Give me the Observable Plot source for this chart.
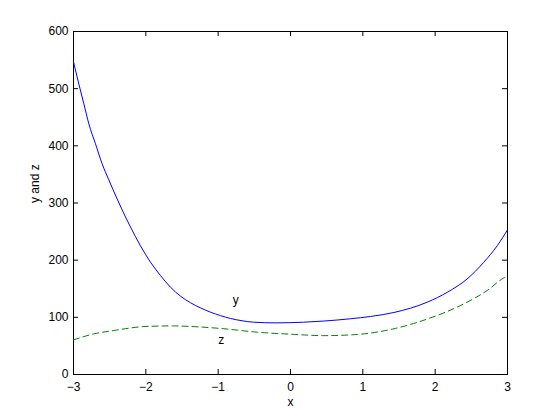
<!DOCTYPE html>
<html><head><meta charset="utf-8">
<script src="https://cdn.jsdelivr.net/npm/d3@7"></script>
<script src="https://cdn.jsdelivr.net/npm/@observablehq/plot@0.6"></script>
<style>html,body{margin:0;padding:0;background:#fff;} svg{display:block}</style>
</head><body><div id="chart"></div>
<script>
const xTicks = [-3, -2, -1, 0, 1, 2, 3];
const yTicks = [0, 100, 200, 300, 400, 500, 600];

const yX = [-3, -2.926, -2.857, -2.788, -2.696, -2.604, -2.512, -2.396, -2.281, -2.212, -2.074, -1.935, -1.797, -1.659, -1.52, -1.382, -1.244, -1.106, -0.968, -0.83, -0.67, -0.51, -0.2, 0.18, 0.46, 0.83, 1.106, 1.43, 1.89, 2.17, 2.44, 2.67, 2.86, 3];
const yV = [547, 508, 473.5, 438.5, 403.5, 368.5, 340.5, 307, 275.5, 258, 225, 196.4, 173, 152.7, 137, 125.5, 116.5, 109, 103, 98, 94, 91.5, 90.3, 91.5, 93.5, 97.5, 101.5, 108.5, 126.5, 144, 167, 196, 225.6, 253];

const zX = [-3, -2.72, -2.44, -2, -1.62, -1.38, -0.92, -0.46, 0, 0.46, 0.92, 1.43, 1.89, 2.35, 2.72, 2.95, 3];
const zV = [60.5, 71, 77, 84, 85, 84, 80, 74, 70.5, 68, 70, 80, 97, 120.7, 147, 169, 172];

const labelX = [-0.8, -1];
const labelV = [130, 60];
const labelText = ["y", "z"];

const yData = yX.map((x, i) => ({x, v: yV[i]}));
const zData = zX.map((x, i) => ({x, v: zV[i]}));
const labels = labelX.map((x, i) => ({x, v: labelV[i], t: labelText[i]}));

const W = 560, H = 420;
const mL = 73, mR = 53, mT = 31, mB = 46;
const fw = W - mL - mR, fh = H - mT - mB;
const tick = 5;

const chart = Plot.plot({
  width: W, height: H,
  marginLeft: mL, marginRight: mR, marginTop: mT, marginBottom: mB,
  style: {fontFamily: "'Liberation Sans', Arial, sans-serif", fontSize: "12px", color: "black", background: "white"},
  x: {domain: [-3, 3]},
  y: {domain: [0, 600]},
  marks: [
    Plot.frame({stroke: "black", strokeWidth: 1}),
    Plot.tickX(xTicks, {x: d => d, insetTop: fh - tick, stroke: "black"}),
    Plot.tickX(xTicks, {x: d => d, insetBottom: fh - tick, stroke: "black"}),
    Plot.tickY(yTicks, {y: d => d, insetRight: fw - tick, stroke: "black"}),
    Plot.tickY(yTicks, {y: d => d, insetLeft: fw - tick, stroke: "black"}),
    Plot.axisX(xTicks, {tickSize: 0, tickPadding: 8, label: null, fill: "black"}),
    Plot.axisY(yTicks, {tickSize: 0, tickPadding: 5, label: null, fill: "black"}),
    Plot.line(yData, {x: "x", y: "v", stroke: "#0000ff", strokeWidth: 1, curve: "monotone-x"}),
    Plot.line(zData, {x: "x", y: "v", stroke: "#008000", strokeWidth: 1, strokeDasharray: "6,4", curve: "monotone-x"}),
    Plot.text(labels, {x: "x", y: "v", text: "t", textAnchor: "start", fill: "black"}),
    Plot.text(["x"], {frameAnchor: "bottom", dy: 31, text: d => d, fill: "black"}),
    Plot.text(["y and z"], {frameAnchor: "left", dx: -38, rotate: -90, text: d => d, fill: "black"})
  ]
});
document.getElementById("chart").appendChild(chart);
</script>
</body></html>
